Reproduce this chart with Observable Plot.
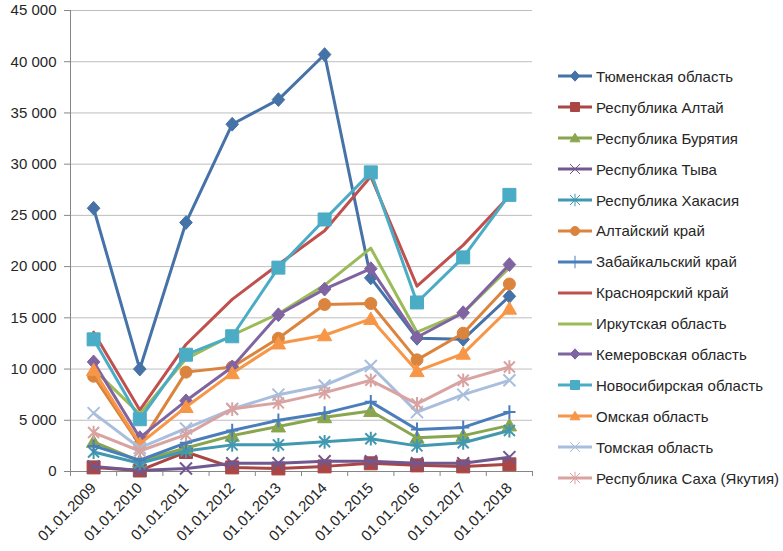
<!DOCTYPE html>
<html>
<head>
<meta charset="utf-8">
<script src="https://cdn.jsdelivr.net/npm/d3@7"></script>
<script src="https://cdn.jsdelivr.net/npm/@observablehq/plot@0.6"></script>
<style>
  html, body { margin: 0; padding: 0; background: #fff; }
  #wrap { position: relative; width: 783px; height: 551px; font-family: "Liberation Sans", Arial, sans-serif; }
  #legend { position: absolute; left: 557px; top: 61px; }
  .item { height: 30.9px; display: flex; align-items: center; font-size: 15px; color: #262626; white-space: nowrap; }
  .item svg { margin-right: 3px; }
</style>
</head>
<body>
<div id="wrap"><div id="chart"></div><div id="legend"></div></div>
<script>
const dates = ["01.01.2009","01.01.2010","01.01.2011","01.01.2012","01.01.2013","01.01.2014","01.01.2015","01.01.2016","01.01.2017","01.01.2018"];
const seriesNames = ["Тюменская область","Республика Алтай","Республика Бурятия","Республика Тыва","Республика Хакасия","Алтайский край","Забайкальский край","Красноярский край","Иркутская область","Кемеровская область","Новосибирская область","Омская область","Томская область","Республика Саха (Якутия)"];
const tyumen      = [25700, 10000, 24300, 33900, 36300, 40700, 18900, 13000, 12900, 17100];
const altaiRep    = [400, 100, 1900, 400, 300, 500, 800, 600, 500, 700];
const buryatia    = [2900, 1000, 2300, 3500, 4400, 5300, 5900, 3300, 3500, 4500];
const tyva        = [500, 100, 300, 800, 800, 1000, 1000, 800, 800, 1400];
const khakasia    = [1900, 800, 2000, 2600, 2600, 2900, 3200, 2500, 2800, 4000];
const altaiKrai   = [9300, 2600, 9700, 10200, 13000, 16300, 16400, 10900, 13500, 18300];
const zabaikal    = [2500, 1100, 2800, 4000, 5000, 5700, 6800, 4100, 4300, 5800];
const krasnoyarsk = [13600, 6000, 12400, 16800, 20200, 23500, 28800, 18100, 22100, 26900];
const irkutsk     = [10000, 5600, 11000, 13300, 15400, 18200, 21800, 13600, 15500, 19900];
const kemerovo    = [10700, 3300, 6900, 10200, 15300, 17800, 19800, 13100, 15500, 20200];
const novosibirsk = [12900, 5100, 11400, 13200, 19900, 24600, 29200, 16500, 20900, 27000];
const omsk        = [9900, 2700, 6300, 9600, 12500, 13300, 14900, 9800, 11500, 15900];
const tomsk       = [5700, 2300, 4200, 6100, 7500, 8400, 10300, 5800, 7500, 8900];
const sakha       = [3800, 2000, 3600, 6100, 6700, 7700, 8900, 6600, 8900, 10200];
const yTicks = [0, 5000, 10000, 15000, 20000, 25000, 30000, 35000, 40000, 45000];

const allValues = [tyumen, altaiRep, buryatia, tyva, khakasia, altaiKrai, zabaikal, krasnoyarsk, irkutsk, kemerovo, novosibirsk, omsk, tomsk, sakha];
const colors = ["#4572A7","#AA4643","#89A54E","#71588F","#4198AF","#DB843D","#4A7EBB","#C0504D","#9BBB59","#8064A2","#4BACC6","#F79646","#A9BEDD","#D9A3A2"];
const markers = ["diamond","square","triangle","times","asterisk","circle","plus",null,null,"diamond","square","triangle","times","asterisk"];

// custom symbols (size = pi r^2)
function mk(drawFn) { return { draw(ctx, size) { drawFn(ctx, Math.sqrt(size / Math.PI)); } }; }
const sym = {
  diamond: mk((c, r) => { c.moveTo(0, -r*1.15); c.lineTo(r*1.05, 0); c.lineTo(0, r*1.15); c.lineTo(-r*1.05, 0); c.closePath(); }),
  square: mk((c, r) => { c.rect(-r, -r, 2*r, 2*r); }),
  triangle: mk((c, r) => { c.moveTo(0, -r*1.05); c.lineTo(r*1.1, r*0.85); c.lineTo(-r*1.1, r*0.85); c.closePath(); }),
  circle: mk((c, r) => { c.moveTo(r, 0); c.arc(0, 0, r, 0, 2*Math.PI); }),
  times: mk((c, r) => { c.moveTo(-r, -r); c.lineTo(r, r); c.moveTo(r, -r); c.lineTo(-r, r); }),
  asterisk: mk((c, r) => { c.moveTo(-r, -r); c.lineTo(r, r); c.moveTo(r, -r); c.lineTo(-r, r); c.moveTo(0, -r*1.25); c.lineTo(0, r*1.25); }),
  plus: mk((c, r) => { c.moveTo(-r*1.1, 0); c.lineTo(r*1.1, 0); c.moveTo(0, -r*1.25); c.lineTo(0, r*1.25); })
};
const filled = {diamond: true, square: true, triangle: true, circle: true};
const sizes = {diamond: 6, square: 6.5, triangle: 6.5, circle: 6, times: 6, asterisk: 5.5, plus: 5.5};

const fmt = v => d3.format(",")(v).replace(/,/g, " ");

const marks = [
  Plot.gridY(yTicks, {stroke: "#BEBEBE", strokeOpacity: 1, strokeWidth: 1}),
  Plot.axisY(yTicks, {tickFormat: fmt, tickSize: 6, tickPadding: 8, fontSize: 15, stroke: "#868686", color: "#262626", label: null}),
  Plot.ruleX([-0.5], {stroke: "#868686"}),
  Plot.ruleY([0], {stroke: "#868686"}),
  Plot.axisX(d3.range(-0.5, dates.length, 1), {tickFormat: () => "", tickSize: 5, stroke: "#868686", label: null}),
  Plot.axisX(d3.range(dates.length), {tickFormat: i => dates[i], tickSize: 0, tickPadding: 14, tickRotate: -45, fontSize: 15, color: "#262626", label: null})
];

allValues.forEach((vals, s) => {
  const data = vals.map((v, i) => ({i, v}));
  marks.push(Plot.line(data, {x: "i", y: "v", stroke: colors[s], strokeWidth: 3, strokeLinejoin: "round"}));
  const m = markers[s];
  if (m) {
    marks.push(Plot.dot(data, {x: "i", y: "v", symbol: sym[m], r: sizes[m],
      fill: filled[m] ? colors[s] : "none", stroke: colors[s], strokeWidth: filled[m] ? 1 : 2}));
  }
});

const chart = Plot.plot({
  width: 783, height: 551,
  marginLeft: 70, marginRight: 251, marginTop: 10, marginBottom: 80,
  style: {fontFamily: "'Liberation Sans', Arial, sans-serif", fontSize: "15px", background: "#fff"},
  x: {type: "linear", domain: [-0.5, dates.length - 0.5], axis: null},
  y: {domain: [0, 45000], axis: null},
  marks
});
document.getElementById("chart").appendChild(chart);

// legend
const leg = document.getElementById("legend");
seriesNames.forEach((name, s) => {
  const row = document.createElement("div");
  row.className = "item";
  const m = markers[s];
  let markerSvg = "";
  if (m) {
    const path = d3.path();
    const r = m === "times" || m === "asterisk" || m === "plus" ? 5 : 4.5;
    sym[m].draw(path, Math.PI * r * r);
    markerSvg = `<path transform="translate(18,10)" d="${path.toString()}" fill="${filled[m] ? colors[s] : "none"}" stroke="${colors[s]}" stroke-width="1"/>`;
  }
  row.innerHTML = `<svg width="36" height="20"><line x1="1" x2="35" y1="10" y2="10" stroke="${colors[s]}" stroke-width="3"/>${markerSvg}</svg><span>${name}</span>`;
  leg.appendChild(row);
});
</script>
</body>
</html>
